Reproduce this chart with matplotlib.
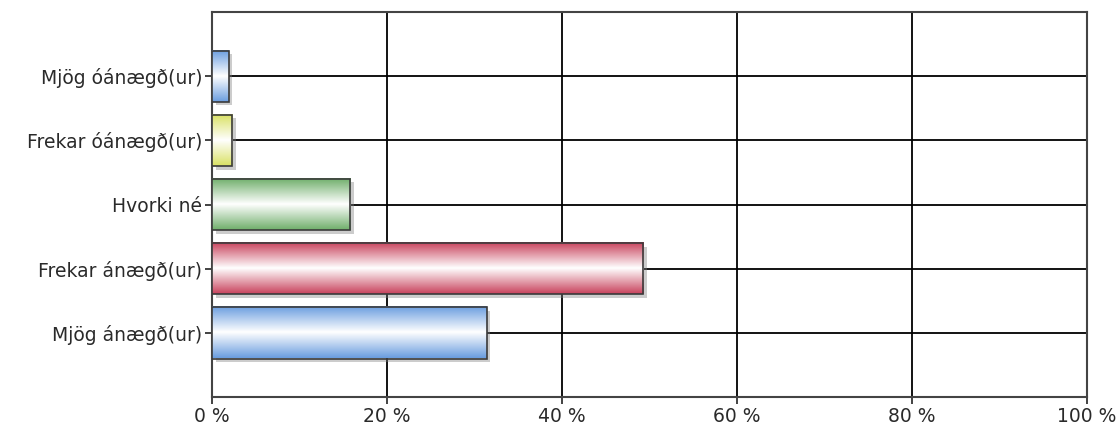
import matplotlib.pyplot as plt
import matplotlib.transforms as mtransforms
from matplotlib.colors import LinearSegmentedColormap
from matplotlib.patches import Rectangle
from matplotlib.ticker import FuncFormatter
import numpy as np

plt.rcParams['font.family'] = ['DejaVu Sans']

# data, bottom to top
categories = ["Mjög ánægð(ur)", "Frekar ánægð(ur)", "Hvorki né",
              "Frekar óánægð(ur)", "Mjög óánægð(ur)"]
percent = [31.4, 49.3, 15.8, 2.3, 1.9]
bar_colors = ["#6a9ddf", "#c8425c", "#6fae6a", "#d9e163", "#6a9ddf"]
x_ticks = [0, 20, 40, 60, 80, 100]

fig = plt.figure(figsize=(11.19, 4.24), dpi=100)
ax = fig.add_axes([212 / 1119, 27 / 424, 875 / 1119, 385 / 424])

ypos = np.arange(len(categories))
bars = ax.barh(ypos, percent, height=0.8, color='none',
               edgecolor='#3a3a3a', linewidth=1.2, zorder=4)

# vertical gradient: colour at top/bottom, white near the middle
t = np.linspace(0, 1, 200).reshape(-1, 1)
shadow_tr = mtransforms.offset_copy(ax.transData, fig=fig, x=3.5, y=-3.5,
                                    units='dots')
for patch, col in zip(bars.patches, bar_colors):
    x0, y0 = patch.get_x(), patch.get_y()
    w, h = patch.get_width(), patch.get_height()
    cmap = LinearSegmentedColormap.from_list(
        'g', [(0, col), (0.5, 'white'), (1, col)])
    # shadow
    ax.add_patch(Rectangle((x0, y0), w, h, transform=shadow_tr,
                           facecolor='#808080', alpha=0.4, edgecolor='none',
                           zorder=2))
    ax.imshow(t, cmap=cmap, aspect='auto', origin='lower',
              extent=(x0, x0 + w, y0, y0 + h), zorder=3,
              interpolation='bilinear')

ax.set_xlim(0, 100)
ax.set_ylim(-1, len(categories))
ax.set_xticks(x_ticks)
ax.xaxis.set_major_formatter(FuncFormatter(lambda v, p: f"{v:.0f} %"))
ax.set_yticks(ypos)
ax.set_yticklabels(categories)

ax.grid(True, color='black', linewidth=1.3, zorder=1)
ax.set_axisbelow(True)
ax.tick_params(axis='both', length=5, width=1.2, color='#222222',
               labelsize=13.5, labelcolor='#2a2a2a', pad=2)
for s in ax.spines.values():
    s.set_color('#444444')
    s.set_linewidth(1.5)

fig.savefig('out.png', dpi=100)
